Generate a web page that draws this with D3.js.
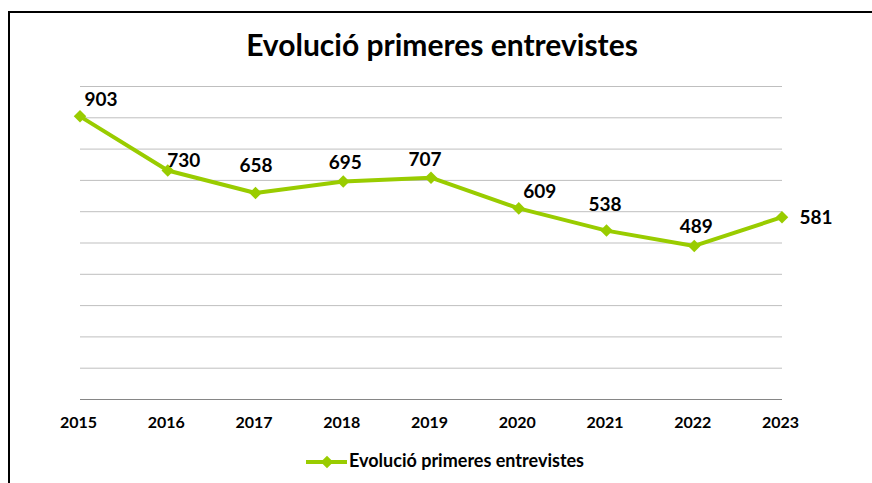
<!DOCTYPE html>
<html>
<head>
<meta charset="utf-8">
<script src="https://cdn.jsdelivr.net/npm/d3@7"></script>
<style>
  body { margin: 0; background: #fff; }
  svg { display: block; font-family: Lato, "Open Sans", sans-serif; font-weight: bold; }
</style>
</head>
<body>
<script>
// Chart data
var years = ["2015", "2016", "2017", "2018", "2019", "2020", "2021", "2022", "2023"];
var values = [903, 730, 658, 695, 707, 609, 538, 489, 581];
var yTicks = [0, 100, 200, 300, 400, 500, 600, 700, 800, 900, 1000];
var seriesName = "Evolució primeres entrevistes";
var chartTitle = "Evolució primeres entrevistes";

// label placement relative to each point (layout only)
var labelOffsets = [[21, -10], [16, -4], [0.5, -21], [2, -12], [-6, -12], [21, -10], [-1.5, -20], [2, -13], [34, 7]];

var width = 872, height = 483;
var lineColor = "#99cc00";

var svg = d3.select("body").append("svg")
    .attr("width", width)
    .attr("height", height);

// chart frame, runs off the right and bottom edges
svg.append("rect")
    .attr("x", 9).attr("y", 12)
    .attr("width", 900).attr("height", 500)
    .attr("fill", "none")
    .attr("stroke", "#000")
    .attr("stroke-width", 2);

var x = d3.scalePoint().domain(years).range([80, 782]);
var y = d3.scaleLinear().domain([0, 1000]).range([399, 86]);

// title
svg.append("text")
    .attr("x", 442).attr("y", 56)
    .attr("text-anchor", "middle")
    .attr("font-size", 30)
    .attr("fill", "#000")
    .text(chartTitle);

// horizontal gridlines
svg.append("g")
    .selectAll("line")
    .data(yTicks.slice(1))
    .enter()
    .append("line")
    .attr("x1", 80).attr("x2", 782)
    .attr("y1", function (d) { return y(d) + 0.5; })
    .attr("y2", function (d) { return y(d) + 0.5; })
    .attr("stroke", "#bfbfbf")
    .attr("stroke-width", 1);

// x axis
var xAxis = svg.append("g")
    .attr("transform", "translate(0," + y(0) + ")")
    .call(d3.axisBottom(x).tickSize(0).tickPadding(0));
xAxis.select(".domain")
    .attr("stroke", "#868686")
    .attr("d", "M80,0.5H782");
xAxis.selectAll("text")
    .attr("y", 29)
    .attr("dy", 0)
    .attr("dx", -2)
    .attr("font-family", "Lato, 'Open Sans', sans-serif")
    .attr("font-weight", "bold")
    .attr("font-size", 16)
    .attr("fill", "#000");

// line
var line = d3.line()
    .x(function (d, i) { return x(years[i]); })
    .y(function (d) { return y(d); });

svg.append("path")
    .datum(values)
    .attr("d", line)
    .attr("fill", "none")
    .attr("stroke", lineColor)
    .attr("stroke-width", 4)
    .attr("stroke-linejoin", "round");

// diamond markers
var diamond = d3.symbol().type(d3.symbolDiamond2).size(100);
svg.append("g")
    .selectAll("path")
    .data(values)
    .enter()
    .append("path")
    .attr("d", diamond)
    .attr("transform", function (d, i) { return "translate(" + x(years[i]) + "," + y(d) + ")"; })
    .attr("fill", lineColor);

// data labels
svg.append("g")
    .selectAll("text")
    .data(values)
    .enter()
    .append("text")
    .attr("x", function (d, i) { return x(years[i]) + labelOffsets[i][0]; })
    .attr("y", function (d, i) { return y(d) + labelOffsets[i][1]; })
    .attr("text-anchor", "middle")
    .attr("font-size", 19)
    .attr("fill", "#000")
    .text(function (d) { return d; });

// legend
var legend = svg.append("g").attr("transform", "translate(306,462)");
legend.append("line")
    .attr("x1", 0).attr("x2", 41)
    .attr("stroke", lineColor)
    .attr("stroke-width", 4);
legend.append("path")
    .attr("d", diamond)
    .attr("transform", "translate(21,0)")
    .attr("fill", lineColor);
legend.append("text")
    .attr("x", 43).attr("y", 5)
    .attr("font-size", 18)
    .attr("fill", "#000")
    .text(seriesName);
</script>
</body>
</html>
